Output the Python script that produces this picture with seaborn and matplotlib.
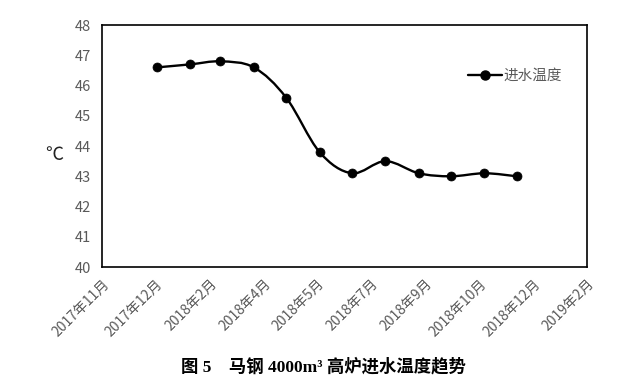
import pandas as pd
import matplotlib
matplotlib.use("Agg")
import matplotlib.pyplot as plt
import matplotlib.dates as mdates
from matplotlib.path import Path
from matplotlib.patches import PathPatch
from matplotlib.lines import Line2D
import seaborn as sns

# data (monthly inlet water temperature)
months = ['2017-12-31', '2018-01-31', '2018-02-28', '2018-03-31', '2018-04-30', '2018-05-31',
          '2018-06-30', '2018-07-31', '2018-08-31', '2018-09-30', '2018-10-31', '2018-11-30']
temps = [46.6, 46.7, 46.8, 46.6, 45.6, 43.8, 43.1, 43.5, 43.1, 43.0, 43.1, 43.0]
series_name = '进水温度'
y_ticks = [40, 41, 42, 43, 44, 45, 46, 47, 48]
# Excel date axis: major unit 50 days
tick_start = '2017-11-10'
tick_step_days = 50
n_ticks = 10
caption = '图 5    马钢 4000m³ 高炉进水温度趋势'

sns.set_theme(style='white')
plt.rcParams['font.family'] = ['Noto Sans CJK SC', 'DejaVu Sans']
plt.rcParams['axes.unicode_minus'] = False

gray = '#595959'

df = pd.DataFrame({'date': pd.to_datetime(months), 'temp': temps})
tick_dates = pd.date_range(tick_start, periods=n_ticks, freq=f'{tick_step_days}D')
tick_labels = [f'{d.year}年{d.month}月' for d in tick_dates]

fig = plt.figure(figsize=(6.33, 3.89), dpi=100)
ax = fig.add_axes([0.161, 0.3136, 0.766, 0.622])

# smoothed line (Excel-style Catmull-Rom bezier through the points)
xs = mdates.date2num(df['date'])
ys = df['temp'].to_numpy()
pts = list(zip(xs, ys))
verts = [pts[0]]
codes = [Path.MOVETO]
for i in range(len(pts) - 1):
    p0 = pts[i - 1] if i > 0 else pts[i]
    p1 = pts[i]
    p2 = pts[i + 1]
    p3 = pts[i + 2] if i + 2 < len(pts) else pts[i + 1]
    c1 = (p1[0] + (p2[0] - p0[0]) / 6, p1[1] + (p2[1] - p0[1]) / 6)
    c2 = (p2[0] - (p3[0] - p1[0]) / 6, p2[1] - (p3[1] - p1[1]) / 6)
    verts += [c1, c2, p2]
    codes += [Path.CURVE4] * 3
ax.add_patch(PathPatch(Path(verts, codes), facecolor='none', edgecolor='black',
                       lw=1.7, transform=ax.transData, zorder=2))

sns.scatterplot(data=df, x='date', y='temp', color='black', s=42, edgecolor='black',
                linewidth=0.5, zorder=3, ax=ax, legend=False)

ax.set_xlim(tick_dates[0], tick_dates[-1])
ax.set_ylim(y_ticks[0], y_ticks[-1])
ax.set_yticks(y_ticks)
ax.set_xticks(tick_dates)
ax.set_xticklabels(tick_labels, rotation=45, ha='right', rotation_mode='anchor',
                   color=gray, fontsize=10)
ax.tick_params(axis='x', direction='in', length=4, width=1, color='black', pad=7)
ax.tick_params(axis='y', direction='out', length=4, width=1, color='black', pad=4,
               labelcolor=gray, labelsize=10.5)
ax.set_xlabel('')
ax.set_ylabel('')
for sp in ax.spines.values():
    sp.set_color('black')
    sp.set_linewidth(1.2)
ax.grid(False)

fig.text(45 / 633, 1 - 155 / 389, '℃', fontsize=13, color='#222222', ha='left', va='center')

handle = Line2D([], [], color='black', lw=1.7, marker='o', markersize=6.5)
leg = ax.legend([handle], [series_name], loc='upper left', bbox_to_anchor=(0.74, 0.85),
                frameon=False, fontsize=10.5, handlelength=2.3, handletextpad=0.1,
                borderpad=0)
for t in leg.get_texts():
    t.set_color(gray)

fig.text(323 / 633, 1 - 367 / 389, caption, ha='center', va='center', fontsize=12.5,
         fontweight='bold', family=['Liberation Serif', 'Noto Sans CJK SC'], color='black')

fig.savefig('out.png', dpi=100)
